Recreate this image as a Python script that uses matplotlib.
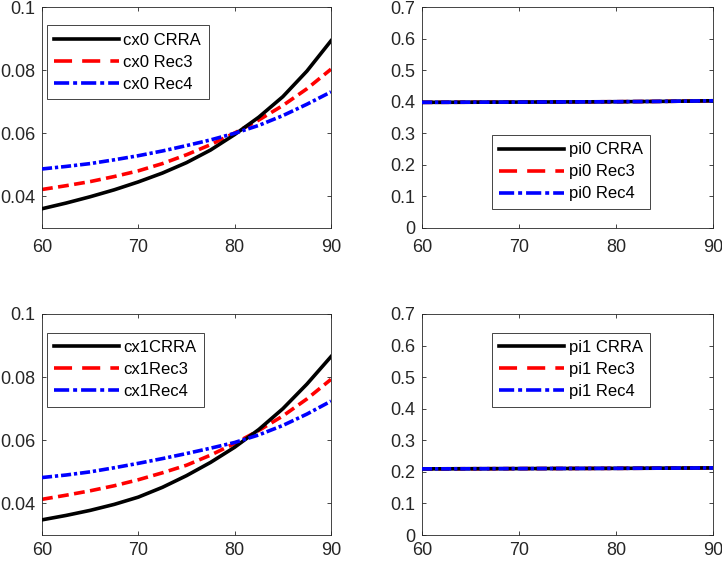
import numpy as np
import matplotlib
matplotlib.use("Agg")
import matplotlib.pyplot as plt
from matplotlib.lines import Line2D
from matplotlib.ticker import FuncFormatter

# ages on the x axis
age = [60, 62.5, 65, 67.5, 70, 72.5, 75, 77.5, 80, 82.5, 85, 87.5, 90]

# consumption ratios, period 0
cx0_crra = [0.0361, 0.0379, 0.0399, 0.0421, 0.0446, 0.0474, 0.0507, 0.0547, 0.0596, 0.0651, 0.0716, 0.0797, 0.0893]
cx0_rec3 = [0.0422, 0.0434, 0.0447, 0.0463, 0.0481, 0.0504, 0.0532, 0.0564, 0.0601, 0.0642, 0.0688, 0.0741, 0.0803]
cx0_rec4 = [0.0487, 0.0495, 0.0504, 0.0516, 0.0529, 0.0544, 0.0561, 0.0579, 0.0600, 0.0625, 0.0656, 0.0692, 0.0731]

# consumption ratios, period 1
cx1_crra = [0.0348, 0.0362, 0.0378, 0.0397, 0.0420, 0.0451, 0.0488, 0.0530, 0.0578, 0.0634, 0.0700, 0.0778, 0.0865]
cx1_rec3 = [0.0413, 0.0426, 0.0440, 0.0456, 0.0475, 0.0497, 0.0521, 0.0553, 0.0590, 0.0631, 0.0677, 0.0731, 0.0793]
cx1_rec4 = [0.0482, 0.0490, 0.0500, 0.0513, 0.0527, 0.0542, 0.0558, 0.0575, 0.0593, 0.0617, 0.0647, 0.0683, 0.0724]

# portfolio shares
pi0_crra = [0.3980, 0.3982, 0.3984, 0.3986, 0.3988, 0.3991, 0.3994, 0.3997, 0.4000, 0.4005, 0.4011, 0.4020, 0.4030]
pi0_rec3 = pi0_crra
pi0_rec4 = pi0_crra
pi1_crra = [0.2095, 0.2097, 0.2099, 0.2101, 0.2103, 0.2105, 0.2107, 0.2109, 0.2111, 0.2114, 0.2117, 0.2121, 0.2125]
pi1_rec3 = pi1_crra
pi1_rec4 = pi1_crra

cx_ticks = [0.04, 0.06, 0.08, 0.1]
pi_ticks = [0, 0.1, 0.2, 0.3, 0.4, 0.5, 0.6, 0.7]
x_ticks = [60, 70, 80, 90]

plt.rcParams['font.family'] = ['Liberation Sans', 'DejaVu Sans']

fig = plt.figure(figsize=(7.22, 5.62), dpi=100)
W, H = 722, 562


def px_axes(l, t, r, b):
    return fig.add_axes([l / W, 1 - b / H, (r - l) / W, (b - t) / H])


ax_tl = px_axes(42, 7, 331, 228)
ax_tr = px_axes(422, 7, 713, 228)
ax_bl = px_axes(42, 314, 331, 535)
ax_br = px_axes(422, 314, 713, 535)

lw = 2.6
colors = ['black', 'red', 'blue']
plot_dash = ['-', (0, (3.0, 1.5)), (0, (2.8, 0.8, 0.9, 0.8))]
leg_dash = ['-', (0, (5.0, 2.8)), (0, (4.2, 1.1, 1.1, 1.1))]
zorders = [3, 2, 4]

fmt = FuncFormatter(lambda v, p: '%g' % round(v, 4))


def panel(ax, series, labels, ylim, yticks, leg_xy, xpad=8):
    for y, c, ls, z in zip(series, colors, plot_dash, zorders):
        ax.plot(age, y, color=c, linestyle=ls, lw=lw, zorder=z)
    ax.set_xlim(60, 90)
    ax.set_ylim(*ylim)
    ax.set_xticks(x_ticks)
    ax.set_yticks(yticks)
    ax.yaxis.set_major_formatter(fmt)
    ax.tick_params(direction='in', length=3, width=0.6, top=True, right=True,
                   labelsize=13, colors='#262626')
    ax.tick_params(axis='x', pad=xpad)
    ax.tick_params(axis='y', pad=5)
    for s in ax.spines.values():
        s.set_color('#262626')
        s.set_linewidth(0.6)
    handles = [Line2D([], [], color=c, linestyle=ls, lw=lw)
               for c, ls in zip(colors, leg_dash)]
    leg = ax.legend(handles, labels, loc='upper left', bbox_to_anchor=leg_xy,
                    fontsize=12, handlelength=3.9, handletextpad=0.25,
                    labelspacing=0.42, borderpad=0.45, borderaxespad=0,
                    fancybox=False, framealpha=1, edgecolor='#262626')
    leg.get_frame().set_linewidth(0.6)
    leg.set_zorder(10)


panel(ax_tl, [cx0_crra, cx0_rec3, cx0_rec4], ['cx0 CRRA', 'cx0 Rec3', 'cx0 Rec4'],
      (0.03, 0.1), cx_ticks, (0.016, 0.918))
panel(ax_tr, [pi0_crra, pi0_rec3, pi0_rec4], ['pi0 CRRA', 'pi0 Rec3', 'pi0 Rec4'],
      (0, 0.7), pi_ticks, (0.24, 0.421))
panel(ax_bl, [cx1_crra, cx1_rec3, cx1_rec4], ['cx1CRRA', 'cx1Rec3', 'cx1Rec4'],
      (0.03, 0.1), cx_ticks, (0.016, 0.916), xpad=5)
panel(ax_br, [pi1_crra, pi1_rec3, pi1_rec4], ['pi1 CRRA', 'pi1 Rec3', 'pi1 Rec4'],
      (0, 0.7), pi_ticks, (0.24, 0.916), xpad=5)

fig.savefig('out.png', dpi=100)
